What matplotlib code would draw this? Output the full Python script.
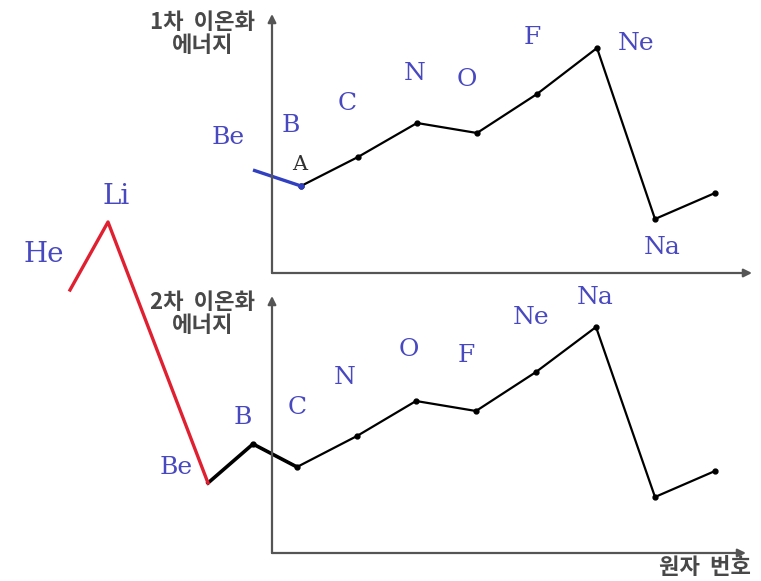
import matplotlib
matplotlib.use("Agg")
from matplotlib import pyplot as plt

# schematic coordinates (image units: x = position along atomic number, y = height, downwards)
# 1st ionization energy panel
top_x = [301, 358, 417, 477, 537, 597, 655, 715]
top_y = [186, 157, 123, 133, 94, 48, 219, 193]
top_blue_x = [253, 301]
top_blue_y = [170, 186]
top_labels = ["Be", "B", "C", "N", "O", "F", "Ne", "Na", "A"]
top_label_x = [228, 291, 347, 415, 467, 532, 636, 662, 300]
top_label_y = [137, 126, 103, 73, 80, 38, 44, 248, 164]

# 2nd ionization energy panel
bot_x = [208, 253, 297, 357, 416, 476, 536, 596, 655, 715]
bot_y = [483, 444, 467, 436, 401, 411, 372, 327, 497, 471]
bot_labels = ["Be", "B", "C", "N", "O", "F", "Ne", "Na"]
bot_label_x = [176, 243, 297, 345, 409, 466, 531, 595]
bot_label_y = [468, 418, 408, 378, 350, 356, 318, 297]

# red line He - Li - Be
red_x = [70, 108, 208]
red_y = [290, 222, 483]
red_labels = ["He", "Li"]
red_label_x = [44, 116]
red_label_y = [254, 197]

blue = "#4848c0"
axis_col = "#555555"

fig = plt.figure(figsize=(7.61, 5.81), dpi=100)
ax = fig.add_axes([0, 0, 1, 1])
ax.set_xlim(0, 761)
ax.set_ylim(581, 0)
ax.axis("off")

# axes of both panels
def axis_arrow(x0, y0, x1, y1):
    ax.annotate("", xy=(x1, y1), xytext=(x0, y0),
                arrowprops=dict(arrowstyle="-|>", color=axis_col, lw=1.6,
                                mutation_scale=12, shrinkA=0, shrinkB=0))

axis_arrow(272, 273, 272, 14)
axis_arrow(272, 273, 752, 273)
axis_arrow(272, 553, 272, 296)
axis_arrow(272, 553, 746, 553)

# lines
ax.plot(top_x, top_y, color="black", lw=1.6, marker="o", ms=3.5)
ax.plot(top_blue_x, top_blue_y, color="#3040c0", lw=2.4, solid_capstyle="butt")
ax.plot(top_blue_x[-1:], top_blue_y[-1:], "o", color="#3040c0", ms=3.5)
ax.plot(bot_x[1:], bot_y[1:], color="black", lw=1.6, marker="o", ms=3.5)
ax.plot(bot_x[:3], bot_y[:3], color="black", lw=2.6)
ax.plot(red_x, red_y, color="#e02030", lw=2.4)

serif = "DejaVu Serif"
for s, x, y in zip(top_labels, top_label_x, top_label_y):
    ax.text(x, y, s, color="#303030" if s == "A" else blue,
            fontsize=15 if s == "A" else 18, family=serif, ha="center", va="center")
for s, x, y in zip(bot_labels, bot_label_x, bot_label_y):
    ax.text(x, y, s, color=blue, fontsize=18, family=serif, ha="center", va="center")
for s, x, y in zip(red_labels, red_label_x, red_label_y):
    ax.text(x, y, s, color=blue, fontsize=20, family=serif, ha="center", va="center")

kr = ["Noto Sans CJK KR", "DejaVu Sans"]
ax.text(203, 34, "1차  이온화\n에너지", fontsize=16, family=kr, color="#484848",
        weight="bold", ha="center", va="center", linespacing=1.0)
ax.text(203, 314, "2차  이온화\n에너지", fontsize=16, family=kr, color="#484848",
        weight="bold", ha="center", va="center", linespacing=1.0)
ax.text(705, 568, "원자  번호", fontsize=16, family=kr, color="#484848",
        weight="bold", ha="center", va="center")

plt.savefig("out.png", dpi=100)
